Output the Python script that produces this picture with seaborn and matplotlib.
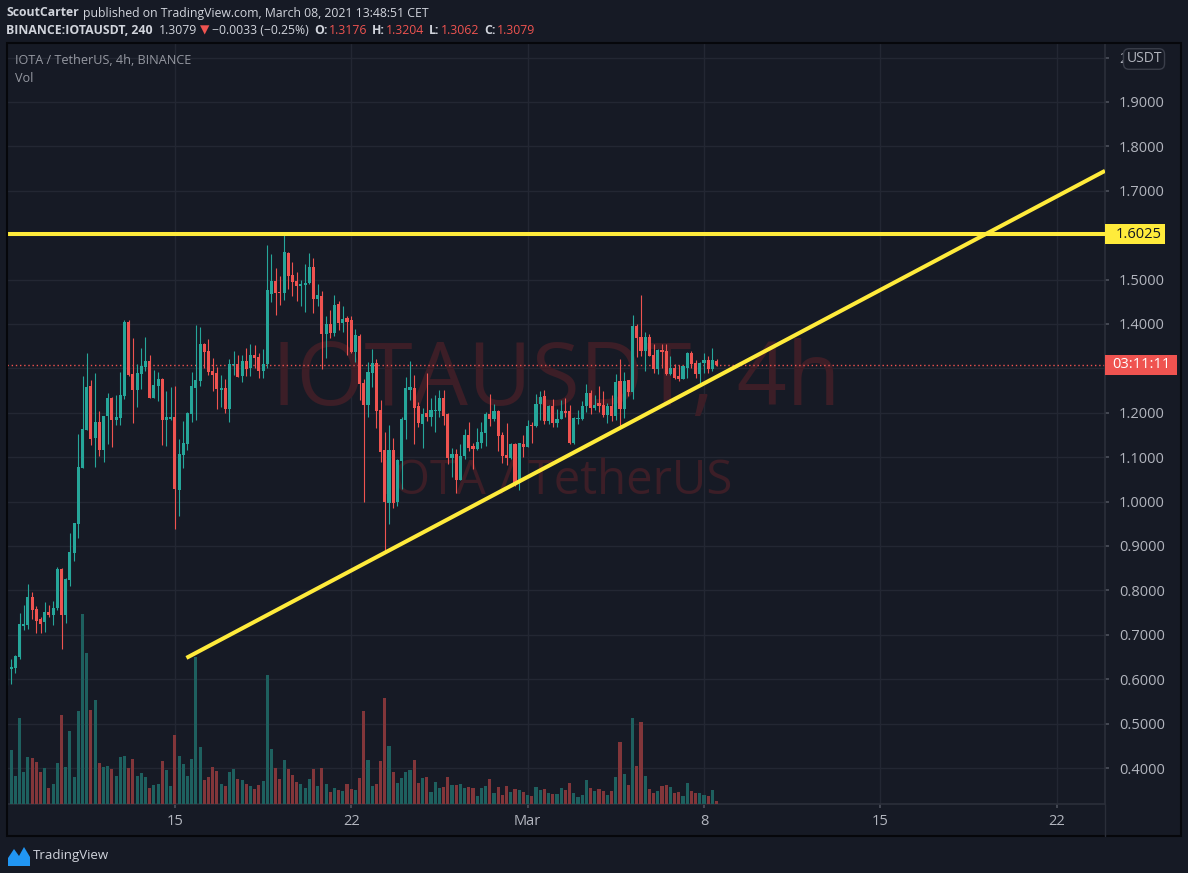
import numpy as np
import pandas as pd
import matplotlib
matplotlib.use("Agg")
import matplotlib.pyplot as plt
import matplotlib.transforms as mtransforms
from matplotlib.patches import Rectangle, Polygon
from matplotlib.lines import Line2D
from matplotlib.ticker import FuncFormatter, MultipleLocator
import seaborn as sns

# ---- data (Binance) ----
opens = [
    0.593, 0.623, 0.626, 0.650, 0.720, 0.723, 0.786, 0.757, 0.736, 0.728,
    0.752, 0.745, 0.760, 0.848, 0.744, 0.823, 0.885, 0.950, 1.076, 1.162,
    1.261, 1.144, 1.180, 1.117, 1.192, 1.234, 1.183, 1.188, 1.237, 1.404,
    1.287, 1.251, 1.288, 1.303, 1.316, 1.233, 1.260, 1.275, 1.183, 1.185,
    1.190, 1.026, 1.104, 1.129, 1.197, 1.255, 1.271, 1.354, 1.339, 1.294,
    1.289, 1.251, 1.255, 1.208, 1.308, 1.309, 1.282, 1.316, 1.300, 1.330,
    1.325, 1.295, 1.309, 1.468, 1.496, 1.471, 1.469, 1.560, 1.510, 1.496,
    1.485, 1.488, 1.492, 1.528, 1.456, 1.462, 1.377, 1.400, 1.379, 1.444,
    1.403, 1.414, 1.408, 1.336, 1.373, 1.267, 1.218, 1.290, 1.313, 1.207,
    1.117, 0.997, 1.117, 0.999, 1.092, 1.184, 1.252, 1.256, 1.216, 1.175,
    1.200, 1.191, 1.204, 1.204, 1.234, 1.198, 1.098, 1.107, 1.049, 1.103,
    1.150, 1.125, 1.119, 1.133, 1.155, 1.198, 1.186, 1.204, 1.150, 1.105,
    1.098, 1.130, 1.042, 1.130, 1.123, 1.173, 1.171, 1.220, 1.238, 1.182,
    1.216, 1.177, 1.186, 1.204, 1.204, 1.131, 1.187, 1.186, 1.216, 1.245,
    1.211, 1.222, 1.218, 1.196, 1.216, 1.193, 1.272, 1.209, 1.274, 1.247,
    1.396, 1.371, 1.339, 1.371, 1.331, 1.299, 1.342, 1.340, 1.288, 1.302,
    1.283, 1.277, 1.302, 1.335, 1.313, 1.288, 1.313, 1.318, 1.299, 1.3176,
]
highs = [
    0.625, 0.645, 0.655, 0.750, 0.766, 0.814, 0.797, 0.764, 0.741, 0.773,
    0.768, 0.777, 0.852, 0.850, 0.828, 0.930, 0.952, 1.152, 1.282, 1.334,
    1.273, 1.289, 1.205, 1.193, 1.245, 1.236, 1.239, 1.291, 1.410, 1.410,
    1.368, 1.309, 1.345, 1.370, 1.330, 1.296, 1.291, 1.278, 1.250, 1.258,
    1.260, 1.140, 1.181, 1.201, 1.291, 1.397, 1.393, 1.358, 1.366, 1.323,
    1.303, 1.285, 1.276, 1.321, 1.340, 1.330, 1.330, 1.345, 1.354, 1.352,
    1.334, 1.343, 1.577, 1.557, 1.525, 1.507, 1.600, 1.562, 1.539, 1.516,
    1.500, 1.535, 1.559, 1.548, 1.490, 1.474, 1.418, 1.431, 1.465, 1.451,
    1.440, 1.419, 1.419, 1.388, 1.378, 1.276, 1.315, 1.344, 1.322, 1.229,
    1.157, 1.173, 1.144, 1.096, 1.191, 1.281, 1.317, 1.286, 1.225, 1.211,
    1.290, 1.234, 1.241, 1.252, 1.252, 1.200, 1.121, 1.119, 1.130, 1.164,
    1.180, 1.132, 1.166, 1.180, 1.202, 1.243, 1.220, 1.207, 1.157, 1.177,
    1.132, 1.132, 1.132, 1.150, 1.184, 1.180, 1.243, 1.250, 1.252, 1.218,
    1.232, 1.209, 1.229, 1.234, 1.217, 1.191, 1.207, 1.227, 1.265, 1.252,
    1.240, 1.261, 1.250, 1.223, 1.241, 1.288, 1.321, 1.293, 1.274, 1.421,
    1.401, 1.466, 1.383, 1.378, 1.356, 1.344, 1.356, 1.356, 1.329, 1.309,
    1.307, 1.306, 1.338, 1.340, 1.320, 1.315, 1.335, 1.327, 1.347, 1.3204,
]
lows = [
    0.587, 0.589, 0.614, 0.646, 0.710, 0.714, 0.735, 0.705, 0.705, 0.707,
    0.741, 0.723, 0.756, 0.669, 0.726, 0.810, 0.867, 0.917, 1.076, 1.162,
    1.128, 1.078, 1.103, 1.089, 1.129, 1.122, 1.173, 1.173, 1.232, 1.282,
    1.177, 1.213, 1.254, 1.294, 1.233, 1.233, 1.226, 1.128, 1.125, 1.183,
    0.938, 0.967, 1.076, 1.116, 1.179, 1.183, 1.260, 1.302, 1.285, 1.248,
    1.208, 1.212, 1.199, 1.179, 1.285, 1.280, 1.269, 1.282, 1.282, 1.300,
    1.279, 1.279, 1.302, 1.450, 1.420, 1.442, 1.453, 1.478, 1.462, 1.451,
    1.440, 1.428, 1.490, 1.425, 1.440, 1.298, 1.323, 1.368, 1.373, 1.387,
    1.382, 1.331, 1.334, 1.314, 1.228, 0.998, 1.190, 1.259, 1.166, 1.090,
    0.887, 0.950, 0.986, 0.990, 1.029, 1.141, 1.229, 1.130, 1.168, 1.121,
    1.182, 1.171, 1.157, 1.191, 1.173, 1.085, 1.056, 1.020, 1.049, 1.096,
    1.114, 1.074, 1.117, 1.120, 1.126, 1.171, 1.182, 1.114, 1.087, 1.083,
    1.096, 1.035, 1.026, 1.100, 1.123, 1.132, 1.169, 1.184, 1.175, 1.175,
    1.168, 1.168, 1.186, 1.190, 1.129, 1.129, 1.175, 1.184, 1.202, 1.198,
    1.207, 1.202, 1.191, 1.177, 1.182, 1.184, 1.171, 1.189, 1.238, 1.232,
    1.326, 1.328, 1.294, 1.329, 1.290, 1.288, 1.302, 1.286, 1.286, 1.277,
    1.272, 1.275, 1.279, 1.300, 1.279, 1.266, 1.290, 1.290, 1.295, 1.3062,
]
closes = [
    0.620, 0.628, 0.652, 0.725, 0.725, 0.786, 0.755, 0.732, 0.725, 0.752,
    0.745, 0.761, 0.848, 0.744, 0.825, 0.886, 0.952, 1.077, 1.164, 1.259,
    1.142, 1.180, 1.117, 1.193, 1.234, 1.183, 1.190, 1.241, 1.405, 1.285,
    1.251, 1.289, 1.305, 1.316, 1.233, 1.262, 1.275, 1.183, 1.190, 1.190,
    1.028, 1.107, 1.131, 1.199, 1.260, 1.273, 1.354, 1.336, 1.291, 1.285,
    1.253, 1.255, 1.208, 1.309, 1.311, 1.280, 1.316, 1.298, 1.330, 1.323,
    1.295, 1.311, 1.476, 1.496, 1.469, 1.469, 1.562, 1.507, 1.494, 1.485,
    1.490, 1.492, 1.528, 1.456, 1.465, 1.377, 1.400, 1.380, 1.442, 1.403,
    1.412, 1.405, 1.338, 1.375, 1.264, 1.217, 1.292, 1.313, 1.205, 1.112,
    0.999, 1.117, 0.997, 1.094, 1.186, 1.256, 1.257, 1.211, 1.177, 1.198,
    1.191, 1.207, 1.207, 1.234, 1.193, 1.098, 1.107, 1.049, 1.103, 1.150,
    1.121, 1.119, 1.135, 1.157, 1.198, 1.186, 1.204, 1.148, 1.103, 1.098,
    1.130, 1.042, 1.132, 1.123, 1.171, 1.171, 1.220, 1.236, 1.182, 1.216,
    1.177, 1.186, 1.204, 1.200, 1.131, 1.189, 1.189, 1.216, 1.245, 1.211,
    1.218, 1.216, 1.196, 1.216, 1.193, 1.270, 1.209, 1.272, 1.247, 1.396,
    1.369, 1.339, 1.371, 1.329, 1.299, 1.342, 1.338, 1.288, 1.302, 1.279,
    1.277, 1.306, 1.335, 1.309, 1.288, 1.313, 1.320, 1.299, 1.320, 1.3079,
]
volumes = [
    32, 54, 28, 86, 32, 47, 46, 42, 32, 36, 16, 20, 41, 89, 37, 73, 27, 93, 190, 151,
    94, 104, 41, 37, 38, 35, 28, 47, 48, 36, 45, 28, 31, 27, 16, 19, 20, 43, 34, 18,
    69, 48, 40, 28, 45, 147, 57, 24, 27, 37, 33, 20, 18, 32, 35, 25, 24, 20, 18, 15,
    19, 23, 129, 55, 36, 25, 44, 35, 29, 22, 20, 16, 25, 35, 18, 36, 20, 12, 16, 14,
    13, 20, 15, 14, 26, 93, 44, 18, 20, 43, 106, 58, 32, 21, 26, 32, 34, 44, 21, 26,
    27, 12, 22, 16, 17, 27, 19, 19, 20, 16, 17, 16, 8, 16, 18, 25, 11, 17, 9, 18,
    12, 15, 14, 12, 9, 8, 17, 14, 15, 11, 10, 10, 16, 14, 21, 11, 7, 9, 24, 16,
    13, 15, 13, 9, 13, 27, 62, 30, 19, 86, 38, 82, 28, 15, 11, 13, 18, 19, 17, 11,
    12, 8, 21, 13, 11, 11, 9, 8, 14, 3,
]
first_candle = "2021-02-08 08:00"
day_ticks = ["2021-02-15", "2021-02-22", "2021-03-01", "2021-03-08", "2021-03-15", "2021-03-22"]
day_labels = ["15", "22", "Mar", "8", "15", "22"]
resistance = 1.6025
trend_times = ["2021-02-15 11:00", "2021-03-23 22:00"]
trend_prices = [0.648, 1.745]
countdown = "03:11:11"

# ---- colours ----
BG = "#161a25"
GRID = "#232733"
TXT = "#b2b5be"
UP, DOWN = "#26a69a", "#ef5350"
VOL_UP, VOL_DOWN = "#1e605f", "#82363a"
YELLOW = "#ffeb3b"
WATERMARK = "#3c1e27"
FONT = ["Open Sans", "DejaVu Sans"]

df = pd.DataFrame({"open": opens, "high": highs, "low": lows, "close": closes, "volume": volumes})
df["time"] = pd.date_range(first_candle, periods=len(df), freq="4h")
df["idx"] = np.arange(len(df))
df["dir"] = np.where(df["close"] >= df["open"], "up", "down")
step = pd.Timedelta(hours=4)
t0 = df["time"].iloc[0]
tick_pos = [(pd.Timestamp(d) - t0) / step for d in day_ticks]
trend_pos = [(pd.Timestamp(d) - t0) / step for d in trend_times]

sns.set_theme(style="dark", rc={"axes.facecolor": BG, "figure.facecolor": BG,
                                "savefig.facecolor": BG, "axes.edgecolor": "#2a2e39"})
plt.rcParams["font.family"] = FONT

W, H = 1188, 873
fig = plt.figure(figsize=(W / 100, H / 100), dpi=100)
L, R, T, B = 6.5, 1105, 43, 804
rect = [L / W, 1 - B / H, (R - L) / W, (B - T) / H]
ax = fig.add_axes(rect)
ax_vol = fig.add_axes(rect, sharex=ax)
ax_vol.patch.set_alpha(0)

# candles
colors = np.where(df["dir"] == "up", UP, DOWN)
body_lo = df[["open", "close"]].min(axis=1)
body_h = (df["close"] - df["open"]).abs().clip(lower=0.002)
ax.vlines(df["idx"], df["low"], df["high"], colors=colors, lw=0.8, zorder=3)
ax.bar(df["idx"], body_h, bottom=body_lo, width=0.74, color=colors, lw=0, zorder=4)

# volume
sns.barplot(data=df, x="idx", y="volume", hue="dir", palette={"up": VOL_UP, "down": VOL_DOWN},
            native_scale=True, dodge=False, width=0.74, saturation=1, linewidth=0,
            errorbar=None, legend=False, ax=ax_vol)
ax_vol.set_ylim(0, B - T)
ax_vol.set_axis_off()

# drawings
ax.axhline(resistance, color=YELLOW, lw=2.9, zorder=5)
ax.plot(trend_pos, trend_prices, color=YELLOW, lw=2.9, zorder=5, solid_capstyle="butt")
ax.axhline(closes[-1], color=DOWN, lw=1, ls=(0, (1, 2)), zorder=2)

# watermark
ax.text(0.5, 0.555, "IOTAUSDT, 4h", transform=ax.transAxes, ha="center", va="center",
        fontsize=63, color=WATERMARK, zorder=1)
ax.text(0.5, 0.424, "IOTA / TetherUS", transform=ax.transAxes, ha="center", va="center",
        fontsize=34, color=WATERMARK, zorder=1)


# price scale: labels hidden behind the boxes are left out
def price_fmt(v, pos):
    v = round(v, 1)
    if v in (1.3, 1.6):
        return ""
    if v == 2.0:
        return "2"
    return f"{v:.4f}"


ax.set_xlim(-0.1, 261.5)
ax.set_ylim(0.31892, 2.03288)
ax.yaxis.tick_right()
ax.yaxis.set_major_locator(MultipleLocator(0.1))
ax.yaxis.set_major_formatter(FuncFormatter(price_fmt))
ax.set_xticks(tick_pos, day_labels)
ax.grid(True, color=GRID, lw=1)
ax.set_axisbelow(True)
ax.tick_params(axis="y", colors="#4a4e59", labelcolor=TXT, labelsize=10.5, length=3, pad=7, right=True)
ax.tick_params(axis="x", colors="#4a4e59", labelcolor=TXT, labelsize=10.5, length=3, pad=4, bottom=True)
for s in ["top", "left"]:
    ax.spines[s].set_visible(False)
for s in ["bottom", "right"]:
    ax.spines[s].set_color("#2a2e39")
ax.set_xlabel("")
ax.set_ylabel("")

# price labels on the scale
lab_tr = mtransforms.blended_transform_factory(ax.transAxes, ax.transData)
ppx = (2.03288 - 0.31892) / (B - T)
ax.add_patch(Rectangle((1.0, resistance - 10 * ppx), 60 / (R - L), 20 * ppx, transform=lab_tr,
                       fc=YELLOW, ec="none", clip_on=False, zorder=6))
ax.text(1.0 + 11 / (R - L), resistance, f"{resistance:.4f}", transform=lab_tr, ha="left", va="center",
        fontsize=10.5, color="#131722", clip_on=False, zorder=7)
ax.add_patch(Rectangle((1.0, closes[-1] - 10 * ppx), 72 / (R - L), 20 * ppx, transform=lab_tr,
                       fc=DOWN, ec="none", clip_on=False, zorder=6))
ax.text(1.0 + 36 / (R - L), closes[-1], countdown, transform=lab_tr, ha="center", va="center",
        fontsize=10.5, color="white", clip_on=False, zorder=7)
fig.text(1144 / W, 1 - 59 / H, "USDT", ha="center", va="center", fontsize=10, color=TXT,
         bbox=dict(boxstyle="round,pad=0.2,rounding_size=0.4", fc=BG, ec="#3a3e4a"))

# frame lines
fig.add_artist(Rectangle((L / W, 1 - 836 / H), (1181 - L) / W, (836 - T) / H, transform=fig.transFigure,
                         fill=False, ec="#06070b", lw=1.5))
fig.add_artist(Line2D([R / W, R / W], [1 - 836 / H, 1 - B / H], transform=fig.transFigure,
                      color="#2a2e39", lw=1))

# header
renderer = fig.canvas.get_renderer()


def text_row(x, y, parts, size=8.8):
    for s, color, bold, gap in parts:
        t = fig.text(x / W, 1 - y / H, s, color=color, fontsize=size, va="center", ha="left",
                     fontweight="bold" if bold else "normal")
        x = t.get_window_extent(renderer=renderer).x1 + gap


HEAD = "#d1d4dc"
text_row(6, 13, [("ScoutCarter", HEAD, True, 4),
                 ("published on TradingView.com, March 08, 2021 13:48:51 CET", HEAD, False, 0)])
text_row(6, 30, [("BINANCE:IOTAUSDT, 240", HEAD, True, 6),
                 (f"{closes[-1]:.4f}", HEAD, False, 3),
                 ("\u25bc", DOWN, False, 3),
                 ("\u22120.0033 (\u22120.25%)", HEAD, False, 5),
                 ("O:", HEAD, True, 1), (f"{opens[-1]:.4f}", DOWN, False, 5),
                 ("H:", HEAD, True, 1), (f"{highs[-1]:.4f}", DOWN, False, 5),
                 ("L:", HEAD, True, 1), (f"{lows[-1]:.4f}", DOWN, False, 5),
                 ("C:", HEAD, True, 1), (f"{closes[-1]:.4f}", DOWN, False, 0)])
fig.text(15 / W, 1 - 61 / H, "IOTA / TetherUS, 4h, BINANCE", color="#9598a1", fontsize=9.1,
         va="center", ha="left")
fig.text(15 / W, 1 - 78 / H, "Vol", color="#9598a1", fontsize=9.1, va="center", ha="left")

# footer logo
logo = [(8, 866), (8, 858), (14, 849), (19, 856), (24, 847), (30, 857), (30, 866)]
fig.add_artist(Polygon([(x / W, 1 - y / H) for x, y in logo], closed=True, transform=fig.transFigure,
                       fc="#2196f3", ec="none"))
fig.text(33 / W, 1 - 855 / H, "TradingView", color=HEAD, fontsize=9.5, va="center", ha="left")

fig.savefig("out.png", dpi=100, facecolor=BG)
